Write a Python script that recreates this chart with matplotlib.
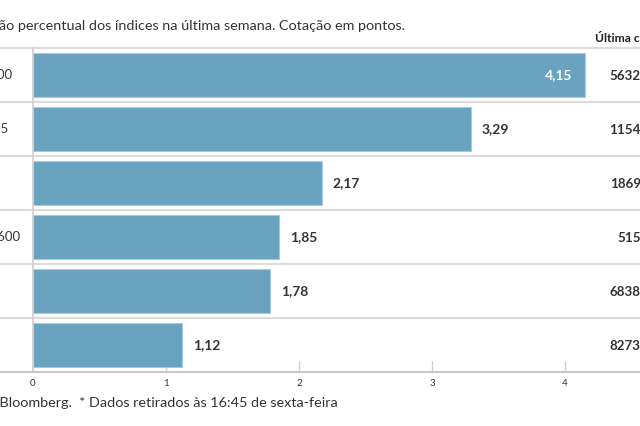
import matplotlib
matplotlib.use('Agg')
import matplotlib.pyplot as plt

plt.rcParams['font.family'] = ['Lato', 'DejaVu Sans']

# data
indices = ['S&P 500', 'IBEX 35', 'DAX', 'Stoxx 600', 'FTSE', 'SMI']
weekly_change = [4.15, 3.29, 2.17, 1.85, 1.78, 1.12]
last_close = ['5632,25', '1154,80', '1869,60', '515,72', '6838,40', '8273,10']
xticks = [0, 1, 2, 3, 4]

subtitle = 'Variação percentual dos índices na última semana. Cotação em pontos.'
footer = 'Fonte: Bloomberg.  * Dados retirados às 16:45 de sexta-feira'
col_header = 'Última cotação'

W, H = 640, 426
px_per_unit = 133.0
x0_px = 33
top_px, bottom_px = 48, 372

fig = plt.figure(figsize=(W / 100, H / 100), dpi=100)
ax = fig.add_axes([x0_px / W, 1 - bottom_px / H, (W - x0_px) / W, (bottom_px - top_px) / H])

xmax = (W - x0_px) / px_per_unit
xmin_fig = -x0_px / px_per_unit

bar_color = '#6aa3bf'
grid_col = '#dcdcdc'
txt_col = '#333333'

n = len(indices)
ypos = list(range(n))
ax.barh(ypos, weekly_change, height=0.83, color=bar_color, edgecolor='#a8cadc', linewidth=0.8, zorder=2)
ax.set_xlim(0, xmax)
ax.set_ylim(n - 0.5, -0.5)

# row separators across the whole width
for i in range(n):
    ax.plot([xmin_fig, xmax], [i - 0.5, i - 0.5], color=grid_col, lw=1.5, clip_on=False, zorder=1)
ax.plot([xmin_fig, xmax], [n - 0.5, n - 0.5], color='#c8c8c8', lw=1.5, clip_on=False, zorder=3)

for s in ['top', 'right', 'bottom']:
    ax.spines[s].set_visible(False)
ax.spines['left'].set_color('#cfcfcf')
ax.spines['left'].set_linewidth(1.2)

ax.set_yticks([])
ax.set_xticks(xticks)
ax.set_xticklabels([str(t) for t in xticks])
ax.tick_params(axis='x', direction='in', length=8, width=1, color='#d0d0d0',
               labelsize=7, labelcolor=txt_col, pad=5)

# value labels
off = 11 / px_per_unit
for i, v in enumerate(weekly_change):
    s = f'{v:.2f}'.replace('.', ',')
    if v > 4:
        ax.text(v - 13 / px_per_unit, i, s, ha='right', va='center', color='white',
                fontsize=10, fontweight='bold', zorder=4)
    else:
        ax.text(v + off, i, s, ha='left', va='center', color=txt_col,
                fontsize=10, fontweight='bold', zorder=4)

# index names (cut by the left edge)
for i, name in enumerate(indices):
    ax.text(xmin_fig - 39 / px_per_unit, i, name, ha='left', va='center', color=txt_col,
            fontsize=9.5, clip_on=False)

# last close column (cut by the right edge)
for i, c in enumerate(last_close):
    ax.text(4.71, i, c, ha='right', va='center', color=txt_col,
            fontsize=9.6, fontweight='bold', clip_on=False)

fig.text(595 / W, 1 - 38 / H, col_header, ha='left', va='center', color='#222222',
         fontsize=8.7, fontweight='bold')
fig.text(405 / W, 1 - 26 / H, subtitle, ha='right', va='center', color=txt_col, fontsize=10.35)
fig.text(338 / W, 1 - 403 / H, footer, ha='right', va='center', color=txt_col, fontsize=10.35)

fig.savefig('out.png', dpi=100)
